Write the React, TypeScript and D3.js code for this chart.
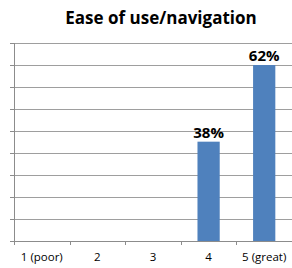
import React, { useRef, useEffect } from "react";
import * as d3 from "d3";

const categories = ["1 (poor)", "2", "3", "4", "5 (great)"];
const shares = [0, 0, 0, 0.38, 0.62];
const shareLabels = ["", "", "", "38%", "62%"];
const title = "Ease of use/navigation";

const W = 292;
const H = 268;

const App = () => {
    const svgRef = useRef<SVGSVGElement>(null);

    function buildChart() {
        const svg = d3.select(svgRef.current);
        svg.selectAll("*").remove();

        const left = 14;
        const right = 292;
        const top = 43;
        const bottom = 241;

        const x = d3
            .scaleBand()
            .domain(categories)
            .range([left, right])
            .paddingInner(0.6)
            .paddingOuter(0.3);
        const step = x.step();

        // value axis (does not start at 0)
        const y = d3.scaleLinear().domain([0.069, 0.689]).range([bottom, top]);
        const gridCount = 9;
        const [d0, d1] = y.domain();
        const gridValues = d3.range(gridCount + 1).map((i) => d0 + (i * (d1 - d0)) / gridCount);

        svg
            .append("text")
            .attr("x", 161)
            .attr("y", 24)
            .attr("text-anchor", "middle")
            .style("font-family", "'Open Sans', sans-serif")
            .style("font-size", "17px")
            .style("font-weight", 700)
            .attr("fill", "#000")
            .text(title);

        // gridlines
        svg
            .append("g")
            .selectAll("line")
            .data(gridValues.slice(1))
            .enter()
            .append("line")
            .attr("x1", left)
            .attr("x2", right)
            .attr("y1", (d) => Math.round(y(d)) + 0.5)
            .attr("y2", (d) => Math.round(y(d)) + 0.5)
            .attr("stroke", "#9e9e9e")
            .attr("stroke-width", 1);

        // left ticks
        svg
            .append("g")
            .selectAll("line")
            .data(gridValues)
            .enter()
            .append("line")
            .attr("x1", left - 4)
            .attr("x2", left)
            .attr("y1", (d) => Math.round(y(d)) + 0.5)
            .attr("y2", (d) => Math.round(y(d)) + 0.5)
            .attr("stroke", "#8c8c8c");

        // bars
        svg
            .append("g")
            .selectAll("rect")
            .data(categories)
            .enter()
            .append("rect")
            .attr("x", (d) => x(d) as number)
            .attr("width", x.bandwidth())
            .attr("y", (d, i) => (shares[i] > 0 ? y(shares[i]) : bottom))
            .attr("height", (d, i) => (shares[i] > 0 ? bottom - y(shares[i]) : 0))
            .attr("fill", "#4f81bd");

        // axes lines
        svg
            .append("line")
            .attr("x1", left + 0.5)
            .attr("x2", left + 0.5)
            .attr("y1", top)
            .attr("y2", bottom + 4)
            .attr("stroke", "#8c8c8c");
        svg
            .append("line")
            .attr("x1", left)
            .attr("x2", right)
            .attr("y1", bottom + 0.5)
            .attr("y2", bottom + 0.5)
            .attr("stroke", "#8c8c8c");

        // category boundary ticks
        svg
            .append("g")
            .selectAll("line")
            .data(categories.slice(1))
            .enter()
            .append("line")
            .attr("x1", (d) => Math.round((x(d) as number) - (step - x.bandwidth()) / 2) + 0.5)
            .attr("x2", (d) => Math.round((x(d) as number) - (step - x.bandwidth()) / 2) + 0.5)
            .attr("y1", bottom)
            .attr("y2", bottom + 4)
            .attr("stroke", "#8c8c8c");

        // category labels
        svg
            .append("g")
            .selectAll("text")
            .data(categories)
            .enter()
            .append("text")
            .attr("x", (d) => (x(d) as number) + x.bandwidth() / 2)
            .attr("y", 261)
            .attr("text-anchor", "middle")
            .style("font-family", "'Open Sans', sans-serif")
            .style("font-size", "11.5px")
            .attr("fill", "#000")
            .text((d) => d);

        // value labels
        svg
            .append("g")
            .selectAll("text")
            .data(categories)
            .enter()
            .append("text")
            .attr("x", (d) => (x(d) as number) + x.bandwidth() / 2)
            .attr("y", (d, i) => y(shares[i]) - 4)
            .attr("text-anchor", "middle")
            .style("font-family", "'Open Sans', sans-serif")
            .style("font-size", "15px")
            .style("font-weight", 700)
            .attr("fill", "#000")
            .text((d, i) => shareLabels[i]);
    }

    useEffect(buildChart, []);
    return (
        <svg
            ref={svgRef}
            width={W}
            height={H}
            style={{ position: "absolute", left: 0, top: 0, background: "#fff" }}
        />
    );
};

export default App;
